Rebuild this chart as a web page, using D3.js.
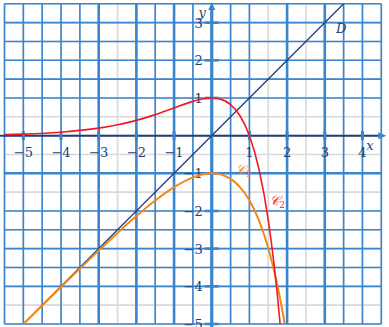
<!DOCTYPE html>
<html>
<head>
<meta charset="utf-8">
<script src="https://cdn.jsdelivr.net/npm/d3@7"></script>
<style>
  html, body { margin: 0; padding: 0; background: #fff; }
  svg { display: block; }
</style>
</head>
<body>
<script>
// curve C2 (red)
const c2X = [-5.5, -5, -4, -3, -2.5, -2, -1.5, -1, -0.5, -0.25, 0, 0.25, 0.5, 0.75, 1, 1.25, 1.5, 1.65, 1.8, 1.85]
const c2Y = [0.027, 0.04, 0.092, 0.199, 0.287, 0.406, 0.558, 0.736, 0.91, 0.974, 1, 0.963, 0.824, 0.529, 0, -0.873, -2.241, -3.384, -4.84, -5.406]

// curve C1 (orange)
const c1X = [-5.5, -5, -4.5, -4, -3.5, -3, -2.5, -2, -1.5, -1, -0.5, -0.25, 0, 0.25, 0.5, 0.75, 1, 1.25, 1.5, 1.75, 1.9, 2]
const c1Y = [-5.504, -5.007, -4.511, -4.018, -3.53, -3.05, -2.582, -2.135, -1.723, -1.368, -1.107, -1.029, -1, -1.034, -1.149, -1.367, -1.718, -2.24, -2.982, -4.005, -4.786, -5.389]

// line D
const dX = [-5, 3.5]
const dY = [-5, 3.5]

// tick labels
const xTicks = [-5, -4, -3, -2, -1, 1, 2, 3, 4]
const yTicks = [3, 2, 1, -1, -2, -3, -4, -5]

// grid: which half-unit lines are blue, which of those are thick
const blueX = [-5.5, -5, -4.5, -4, -3.5, -3, -2, -1.5, -1, -0.5, 0, 0.5, 1, 2, 3, 3.5, 4, 4.5]
const thickX = [-3, -2, -1, 2, 3]
const blueY = [3.5, 3, 2.5, 2, 1.5, 1, -1, -2, -2.5, -3, -3.5, -4, -5]
const thickY = [-1]

const W = 389, H = 327
const blue = '#3a85d0', navy = '#1f3f74', grey = '#d9d9d9'
const font = '"DejaVu Serif", "Liberation Serif", serif'

const x = d3.scaleLinear().domain([-5.5, 4.5]).range([4.5, 381.3])
const y = d3.scaleLinear().domain([-5, 3.5]).range([324, 3.8])

const svg = d3.select('body').append('svg')
  .attr('width', W)
  .attr('height', H)
  .attr('viewBox', [0, 0, W, H])

svg.append('defs').append('clipPath').attr('id', 'plot')
  .append('rect')
    .attr('x', x(-5.5)).attr('y', y(3.5))
    .attr('width', x(4.5) - x(-5.5)).attr('height', y(-5) - y(3.5))

// light grey paper lines every half unit
const halves = d3.range(-11, 10).map(i => i / 2)
const halvesY = d3.range(-10, 8).map(i => i / 2)
const grid = svg.append('g')
grid.selectAll('.gx').data(halves).join('line')
  .attr('x1', d => x(d)).attr('x2', d => x(d))
  .attr('y1', y(3.5)).attr('y2', y(-5))
  .attr('stroke', grey).attr('stroke-width', 1.6)
grid.selectAll('.gy').data(halvesY).join('line')
  .attr('y1', d => y(d)).attr('y2', d => y(d))
  .attr('x1', x(-5.5)).attr('x2', x(4.5))
  .attr('stroke', grey).attr('stroke-width', 1.6)

// blue lines
grid.append('g').selectAll('line').data(blueX).join('line')
  .attr('x1', d => x(d)).attr('x2', d => x(d))
  .attr('y1', y(3.5)).attr('y2', y(-5))
  .attr('stroke', blue)
  .attr('stroke-width', d => thickX.includes(d) ? 2.6 : 1.6)
grid.append('g').selectAll('line').data(blueY).join('line')
  .attr('y1', d => y(d)).attr('y2', d => y(d))
  .attr('x1', x(-5.5)).attr('x2', x(4.5))
  .attr('stroke', blue)
  .attr('stroke-width', d => thickY.includes(d) ? 2.6 : 1.6)

// axes
svg.append('line')
  .attr('x1', 0).attr('x2', x(4.5) + 2)
  .attr('y1', y(0)).attr('y2', y(0))
  .attr('stroke', navy).attr('stroke-width', 2)
svg.append('path')
  .attr('d', `M${x(4.5) + 5},${y(0)} l-8,-3.5 l0,7 z`)
  .attr('fill', blue)
svg.append('line')
  .attr('x1', x(0)).attr('x2', x(0))
  .attr('y1', 6).attr('y2', H)
  .attr('stroke', blue).attr('stroke-width', 3.2)
svg.append('path')
  .attr('d', `M${x(0)},${2} l-3.5,8 l7,0 z`)
  .attr('fill', blue)

// tick marks
svg.append('g').selectAll('line').data(xTicks).join('line')
  .attr('x1', d => x(d)).attr('x2', d => x(d))
  .attr('y1', y(0) - 4.5).attr('y2', y(0) + 4.5)
  .attr('stroke', blue).attr('stroke-width', 3)
svg.append('g').selectAll('line').data(yTicks).join('line')
  .attr('x1', x(0) - 7).attr('x2', x(0) + 7)
  .attr('y1', d => y(d)).attr('y2', d => y(d))
  .attr('stroke', blue).attr('stroke-width', 2.6)

// tick labels
const fmt = d => d < 0 ? '\u2212' + Math.abs(d) : String(d)
svg.append('g').selectAll('text').data(xTicks).join('text')
  .attr('x', d => x(d))
  .attr('y', y(0) + 21)
  .attr('text-anchor', 'middle')
  .attr('font-family', font).attr('font-size', 13)
  .attr('fill', navy)
  .text(fmt)
svg.append('g').selectAll('text').data(yTicks).join('text')
  .attr('x', x(0) - 9)
  .attr('y', d => y(d) + 5)
  .attr('text-anchor', 'end')
  .attr('font-family', font).attr('font-size', 13)
  .attr('fill', navy)
  .text(fmt)

// curves
const line = d3.line().x(d => x(d[0])).y(d => y(d[1])).curve(d3.curveMonotoneX)
const plot = svg.append('g').attr('clip-path', 'url(#plot)')

plot.append('path')
  .datum(d3.zip(dX, dY))
  .attr('d', d3.line().x(d => x(d[0])).y(d => y(d[1])))
  .attr('fill', 'none').attr('stroke', navy).attr('stroke-width', 1.3)

plot.append('path')
  .datum(d3.zip(c1X, c1Y))
  .attr('d', line)
  .attr('fill', 'none').attr('stroke', '#f2871a').attr('stroke-width', 2)

plot.append('path')
  .datum(d3.zip(c2X, c2Y))
  .attr('d', line)
  .attr('fill', 'none').attr('stroke', '#ee1b24').attr('stroke-width', 1.6)

// names
const label = (px, py, txt, color, sub) => {
  const t = svg.append('text')
    .attr('x', px).attr('y', py)
    .attr('font-family', font).attr('font-style', 'italic')
    .attr('font-size', 13).attr('fill', color)
  t.append('tspan').text(txt)
  if (sub) t.append('tspan').attr('font-size', 9).attr('font-style', 'normal').attr('dy', 3).text(sub)
}
label(x(3.3), y(2.72), 'D', navy)
label(x(4.1), y(-0.37), 'x', navy)
label(x(-0.35), y(3.15), 'y', navy)
label(x(0.65), y(-1.03), '\u{1D49E}', '#f2871a', '1')
label(x(1.55), y(-1.85), '\u{1D49E}', '#ee1b24', '2')
</script>
</body>
</html>
